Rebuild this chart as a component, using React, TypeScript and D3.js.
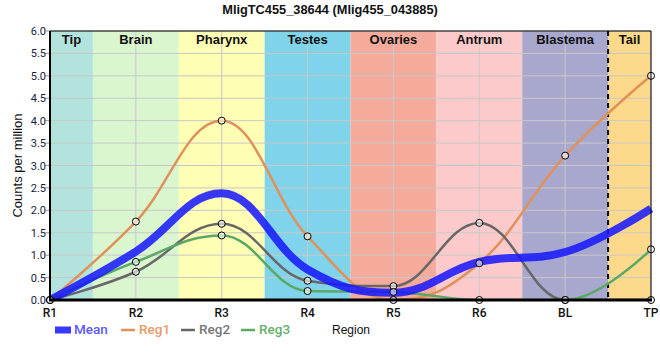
import React from "react";
import * as d3 from "d3";

const categories = ["R1", "R2", "R3", "R4", "R5", "R6", "BL", "TP"];
const reg1 = [0, 1.75, 4.0, 1.42, 0, 0.82, 3.22, 5.0];
const reg2 = [0, 0.63, 1.7, 0.43, 0.31, 1.72, 0, 0];
const reg3 = [0, 0.85, 1.44, 0.2, 0.18, 0, 0, 1.13];
const meanVals = [0, 1.08, 2.38, 0.68, 0.16, 0.85, 1.07, 2.04];
const yTicks = [0, 0.5, 1, 1.5, 2, 2.5, 3, 3.5, 4, 4.5, 5, 5.5, 6];
const bandNames = ["Tip", "Brain", "Pharynx", "Testes", "Ovaries", "Antrum", "Blastema", "Tail"];
const bandStarts = [0, 0.5, 1.5, 2.5, 3.5, 4.5, 5.5, 6.5];
const bandEnds = [0.5, 1.5, 2.5, 3.5, 4.5, 5.5, 6.5, 7];
const bandColors = ["#b3e3dd", "#d9f6cf", "#fefeb5", "#7fd3ea", "#f5ab9c", "#fdcacb", "#a8a8cf", "#fdd98c"];
const title = "MligTC455_38644 (Mlig455_043885)";

const W = 660, H = 360;
const L = 50, R = 651, T = 31, B = 300;

// Spline with horizontal-ish control points (smoothing 1.5), avoiding false extremes
function splinePath(pts: [number, number][]): string {
  const n = pts.length;
  const sm = 1.5, den = sm + 1;
  const lc: ([number, number] | null)[] = [];
  const rc: ([number, number] | null)[] = [];
  for (let i = 0; i < n; i++) {
    if (i === 0 || i === n - 1) { lc.push(null); rc.push(null); continue; }
    const [px, py] = pts[i];
    const [lx, ly] = pts[i - 1];
    const [nx, ny] = pts[i + 1];
    let lcx = (sm * px + lx) / den, lcy = (sm * py + ly) / den;
    let rcx = (sm * px + nx) / den, rcy = (sm * py + ny) / den;
    let corr = 0;
    if (rcx !== lcx) corr = ((rcy - lcy) * (rcx - px)) / (rcx - lcx) + py - rcy;
    lcy += corr; rcy += corr;
    if (lcy > ly && lcy > py) { lcy = Math.max(ly, py); rcy = 2 * py - lcy; }
    else if (lcy < ly && lcy < py) { lcy = Math.min(ly, py); rcy = 2 * py - lcy; }
    if (rcy > ny && rcy > py) { rcy = Math.max(ny, py); lcy = 2 * py - rcy; }
    else if (rcy < ny && rcy < py) { rcy = Math.min(ny, py); lcy = 2 * py - rcy; }
    lc.push([lcx, lcy]); rc.push([rcx, rcy]);
  }
  const p = d3.path();
  p.moveTo(pts[0][0], pts[0][1]);
  for (let i = 1; i < n; i++) {
    const c1 = rc[i - 1] || pts[i - 1];
    const c2 = lc[i] || pts[i];
    p.bezierCurveTo(c1[0], c1[1], c2[0], c2[1], pts[i][0], pts[i][1]);
  }
  return p.toString();
}

export default function App() {
  const x = d3.scaleLinear().domain([0, 7]).range([L, R]);
  const y = d3.scaleLinear().domain([0, 6]).range([B, T]);
  const toPts = (vals: number[]) => vals.map((v, i) => [x(i), y(v)] as [number, number]);
  const regs = [
    { name: "Reg1", vals: reg1, color: "#e0915a", text: "#e89a68" },
    { name: "Reg2", vals: reg2, color: "#676767", text: "#777777" },
    { name: "Reg3", vals: reg3, color: "#5aa864", text: "#64b06a" },
  ];
  return (
    <svg width={W} height={H} style={{ display: "block", position: "absolute", left: 0, top: 0 }}>
      <defs>
        <clipPath id="plotclip">
          <rect x={L} y={T} width={R - L + 10} height={B - T} />
        </clipPath>
      </defs>
      <rect width={W} height={H} fill="#fff" />
      <text x={330} y={13.5} textAnchor="middle" fontFamily="Liberation Sans, Arial, sans-serif" fontWeight="bold" fontSize={12.8} fill="#111">
        {title}
      </text>
      {bandNames.map((n, i) => (
        <rect key={n} x={x(bandStarts[i])} y={T} width={x(bandEnds[i]) - x(bandStarts[i])} height={B - T} fill={bandColors[i]} />
      ))}
      {yTicks.map((t) => (
        <g key={t}>
          <line x1={L} x2={R} y1={y(t)} y2={y(t)} stroke="#c8c8c8" strokeWidth={1} />
          <line x1={L - 5} x2={L} y1={y(t)} y2={y(t)} stroke="#999" strokeWidth={1} />
          <text x={L - 4} y={y(t) + 4} textAnchor="end" fontFamily="Roboto, sans-serif" fontSize={11} fill="#1a1a3a">
            {t.toFixed(1)}
          </text>
        </g>
      ))}
      {categories.map((c, i) => (
        <g key={c}>
          <line x1={x(i)} x2={x(i)} y1={T} y2={B} stroke="#c8c8c8" strokeWidth={1} />
          <text x={x(i)} y={316.5} textAnchor="middle" fontFamily="Roboto, sans-serif" fontWeight={500} fontSize={12} fill="#111">
            {c}
          </text>
        </g>
      ))}
      {bandNames.map((n, i) => (
        <text key={n} x={(x(bandStarts[i]) + x(bandEnds[i])) / 2} y={44} textAnchor="middle" fontFamily="Liberation Sans, Arial, sans-serif" fontWeight="bold" fontSize={13} fill="#111">
          {n}
        </text>
      ))}
      <line x1={x(6.5)} x2={x(6.5)} y1={T} y2={B} stroke="#000" strokeWidth={2} strokeDasharray="5,4" />
      <g clipPath="url(#plotclip)">
        {regs.map((r) => (
          <path key={r.name} d={splinePath(toPts(r.vals))} fill="none" stroke={r.color} strokeWidth={2.5} />
        ))}
        <path d={splinePath(toPts(meanVals))} fill="none" stroke="#1515ff" strokeOpacity={0.85} strokeWidth={8} />
      </g>
      {regs.map((r) =>
        r.vals.map((v, i) => (
          <circle key={r.name + i} cx={x(i)} cy={y(v)} r={3.5} fill="#ffffff" fillOpacity={0.6} stroke="#000" strokeWidth={1} />
        ))
      )}
      <line x1={L} x2={L} y1={T} y2={B + 1} stroke="#000" strokeWidth={2} />
      <line x1={L} x2={R} y1={T} y2={T} stroke="#000" strokeWidth={1} />
      <line x1={R} x2={R} y1={T} y2={B} stroke="#000" strokeWidth={1} />
      <line x1={L - 1} x2={R + 1} y1={B} y2={B} stroke="#000" strokeWidth={3} />
      <text transform={`translate(22,${(T + B) / 2}) rotate(-90)`} textAnchor="middle" fontFamily="Liberation Sans, Arial, sans-serif" fontSize={13} fill="#111">
        Counts per million
      </text>
      <g fontFamily="Roboto, sans-serif" fontSize={13.5} fontWeight={500}>
        <rect x={55} y={326.5} width={16} height={7} fill="#2222ff" fillOpacity={0.9} />
        <text x={74} y={334} fill="#5a5aff">Mean</text>
        {regs.map((r, k) => (
          <g key={r.name}>
            <line x1={121 + k * 60} x2={135 + k * 60} y1={330} y2={330} stroke={r.color} strokeWidth={2.5} />
            <text x={139 + k * 60} y={334} fill={r.text}>{r.name}</text>
          </g>
        ))}
      </g>
      <text x={332} y={334} fontFamily="Liberation Sans, Arial, sans-serif" fontSize={12} fill="#111">Region</text>
    </svg>
  );
}
